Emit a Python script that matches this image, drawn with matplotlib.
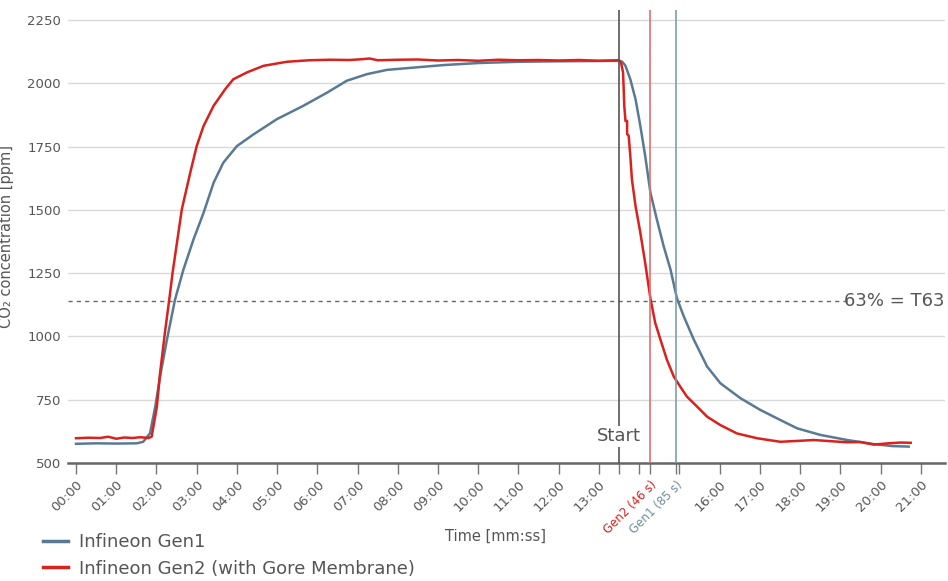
import numpy as np
import matplotlib
matplotlib.use('Agg')
import matplotlib.pyplot as plt
from matplotlib.lines import Line2D

# time in minutes, CO2 in ppm
gen1_t = [0.0, 0.5, 1.0, 1.51, 1.67, 1.84, 1.97, 2.09, 2.26, 2.46, 2.67, 2.92, 3.17, 3.42,
          3.66, 4.0, 4.41, 4.99, 5.65, 6.24, 6.73, 7.23, 7.73, 8.39, 9.14, 10.0, 11.0, 12.0,
          13.0, 13.5, 13.58, 13.66, 13.78, 13.91, 14.03, 14.15, 14.28, 14.44, 14.61, 14.78,
          14.94, 15.11, 15.36, 15.69, 16.02, 16.52, 17.01, 17.51, 17.93, 18.51, 19.17, 19.83,
          20.3, 20.7]
gen1_ppm = [576, 578, 577, 578, 584, 618, 723, 842, 987, 1145, 1264, 1383, 1488, 1607,
            1686, 1752, 1798, 1858, 1911, 1963, 2010, 2036, 2053, 2062, 2072, 2080, 2085, 2087,
            2088, 2089, 2085, 2069, 2016, 1937, 1831, 1713, 1568, 1462, 1356, 1264,
            1150, 1079, 987, 881, 815, 756, 710, 670, 637, 611, 591, 575,
            567, 565]

gen2_t = [0.0, 0.3, 0.6, 0.8, 1.0, 1.2, 1.4, 1.6, 1.8, 1.88, 2.01, 2.09, 2.21, 2.34, 2.40,
          2.63, 2.84, 3.0, 3.17, 3.42, 3.71, 3.91, 4.25, 4.66, 5.24, 5.8, 6.3, 6.8, 7.1, 7.3,
          7.5, 8.0, 8.5, 9.0, 9.5, 10.0, 10.5, 11.0, 11.5, 12.0, 12.5, 13.0, 13.5, 13.55,
          13.6, 13.63, 13.66, 13.7, 13.7, 13.74, 13.78, 13.82, 13.91, 14.03, 14.15, 14.28,
          14.4, 14.53, 14.69, 14.86, 15.02, 15.19, 15.44, 15.69, 16.02, 16.43, 16.93, 17.51,
          18.0, 18.34, 18.8, 19.17, 19.5, 19.83, 20.2, 20.5, 20.75]
gen2_ppm = [598, 600, 599, 604, 596, 601, 599, 602, 599, 604, 723, 856, 1015, 1173, 1251,
            1502, 1647, 1752, 1831, 1911, 1977, 2016, 2043, 2069, 2085, 2091, 2093, 2092, 2095, 2098,
            2091, 2093, 2094, 2090, 2092, 2089, 2093, 2091, 2092, 2090, 2092, 2089, 2091, 2080,
            2043, 1911, 1851, 1851, 1800, 1792, 1713, 1620, 1515, 1409, 1290, 1150,
            1053, 987, 908, 842, 802, 762, 723, 683, 650, 617, 598, 584,
            588, 591, 586, 582, 583, 573, 578, 581, 580]

t_start = 13.5
t63_gen2 = 46
t63_gen1 = 85
t63_level = 1140

major_minutes = list(range(0, 22))
tick_labels = ['%02d:00' % m for m in major_minutes]

c_gen1 = '#587a92'
c_gen2 = '#d9211d'
c_text = '#555555'

fig = plt.figure(figsize=(9.48, 5.81), dpi=100)
ax = fig.add_axes([0.0717, 0.203, 0.925, 0.780])

ax.set_xlim(-0.2, 21.6)
ax.set_ylim(500, 2290)
ax.set_yticks(range(500, 2251, 250))
for y in range(750, 2251, 250):
    ax.axhline(y, color='#d9d9d9', lw=1.0, zorder=0)

ax.plot(gen1_t, gen1_ppm, color=c_gen1, lw=1.8, zorder=3)
ax.plot(gen2_t, gen2_ppm, color=c_gen2, lw=1.8, zorder=4)

# T63 reference line
ax.plot([-0.2, 19.2], [t63_level, t63_level], ls=(0, (3, 3)), color='#666666', lw=1.0, zorder=2)
ax.text(21.6, t63_level, '63% = T63', ha='right', va='center', fontsize=13, color=c_text)

# start and T63 markers
x_gen2 = t_start + t63_gen2 / 60
x_gen1 = t_start + t63_gen1 / 60
ax.axvline(t_start, color='#555555', lw=1.2, zorder=5)
ax.axvline(x_gen2, color='#e07070', lw=1.2, zorder=5)
ax.axvline(x_gen1, color='#7f9dab', lw=1.2, zorder=5)
ax.text(t_start, 570, 'Start', ha='center', va='bottom', fontsize=13, color=c_text,
        bbox=dict(facecolor='white', edgecolor='none', pad=1), zorder=6)

# x ticks: minutes, 14:00 and 15:00 labels replaced by T63 labels
ticks = major_minutes + [t_start, x_gen2, x_gen1]
labels = [l if m not in (14, 15) else '' for m, l in zip(major_minutes, tick_labels)]
labels += ['', 'Gen2 (46 s)', 'Gen1 (85 s)']
ax.set_xticks(ticks)
ax.set_xticklabels(labels, rotation=45, ha='right', rotation_mode='anchor', fontsize=9.5,
                   color=c_text)
tl = ax.get_xticklabels()
tl[-2].set_color(c_gen2)
tl[-2].set_fontsize(8.5)
tl[-1].set_color('#6f8d9c')
tl[-1].set_fontsize(8.5)
ax.tick_params(axis='x', length=8, width=1.0, color='#777777', pad=3)
ax.tick_params(axis='y', length=0, labelsize=9.5, labelcolor=c_text, pad=5)

for s in ['top', 'right', 'left']:
    ax.spines[s].set_visible(False)
ax.spines['bottom'].set_color('#666666')
ax.spines['bottom'].set_linewidth(1.8)

ax.set_xlabel('Time [mm:ss]', fontsize=10.5, color=c_text)
ax.xaxis.set_label_coords(0.487, -0.145)
ax.set_ylabel('CO₂ concentration [ppm]', fontsize=10.5, color=c_text)
ax.yaxis.set_label_coords(-0.062, 0.5)

handles = [Line2D([], [], color=c_gen1, lw=2.5), Line2D([], [], color=c_gen2, lw=2.5)]
fig.legend(handles, ['Infineon Gen1', 'Infineon Gen2 (with Gore Membrane)'],
           loc='lower left', bbox_to_anchor=(0.028, -0.022), frameon=False, fontsize=13,
           handlelength=1.4, labelspacing=0.45, labelcolor=c_text, handletextpad=0.6)

fig.savefig('out.png', dpi=100)
